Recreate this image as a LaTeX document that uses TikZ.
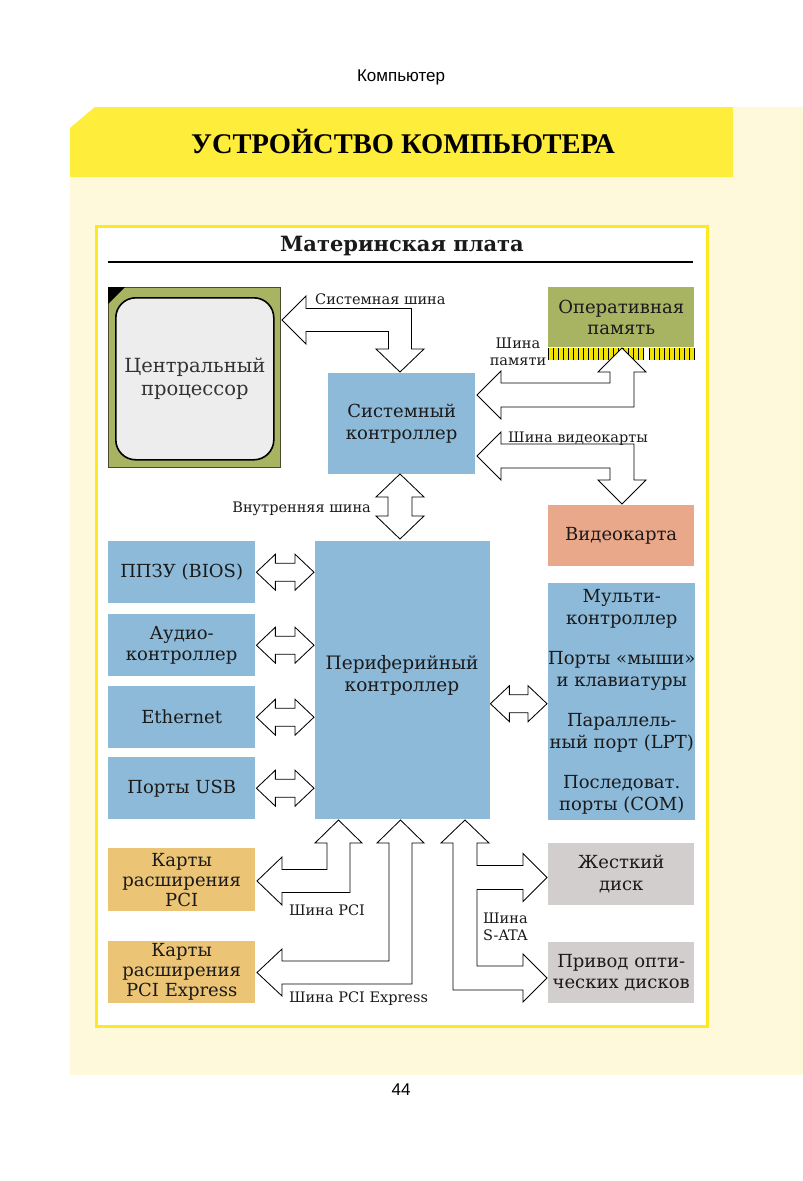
\documentclass[tikz,border=0pt]{standalone}
\usepackage{fontspec}
\setmainfont{DejaVu Serif}
\newfontfamily\bodyf{DejaVu Serif}
\newfontfamily\titlef{Liberation Serif}
\newfontfamily\sansf{Liberation Sans}
\usetikzlibrary{calc}
\definecolor{cream}{HTML}{FFF9DB}
\definecolor{band}{HTML}{FFED3B}
\definecolor{framey}{HTML}{FCE920}
\definecolor{olivebox}{HTML}{A8B462}
\definecolor{cpuedge}{HTML}{4A4A30}
\definecolor{bluebox}{HTML}{8DBAD9}
\definecolor{salmon}{HTML}{EAA88B}
\definecolor{orangebox}{HTML}{ECC476}
\definecolor{greybox}{HTML}{D3CECE}
\definecolor{cpugrey}{HTML}{EDEDED}
\definecolor{pinyellow}{HTML}{F2E200}
\definecolor{txt}{HTML}{1A1A1A}
\newcommand\HDArrow[2]{%
  \path[fat] let \p1=(#1), \p2=(#2) in
   (\x1,\y1) -- (\x1+19pt,\y1+18pt) -- (\x1+19pt,\y1+9pt) -- (\x2-19pt,\y1+9pt)
   -- (\x2-19pt,\y1+18pt) -- (\x2,\y1) -- (\x2-19pt,\y1-18pt) -- (\x2-19pt,\y1-9pt)
   -- (\x1+19pt,\y1-9pt) -- (\x1+19pt,\y1-18pt) -- cycle;}
\begin{document}
\begin{tikzpicture}[x=1pt,y=-1pt,
  box/.style={rectangle, inner sep=0pt, align=center, text=txt,
    font=\bodyf\fontsize{18}{21.5}\selectfont, anchor=north west},
  fat/.style={draw=black, fill=white, line width=0.85pt, line join=miter},
  buslabel/.style={inner sep=0pt, text=txt, font=\bodyf\fontsize{14.5}{17}\selectfont}]
\useasboundingbox (0,0) rectangle (803,1181);
\fill[white] (0,0) rectangle (803,1181);
\fill[cream] (95,107) -- (803,107) -- (803,1075) -- (70,1075) -- (70,128) -- cycle;
\fill[band] (95,107) -- (733,107) -- (733,177) -- (70,177) -- (70,128) -- cycle;
\node[font=\sansf\fontsize{17}{20}\selectfont] (hdr) at (401,77) {Компьютер};
\node[font=\titlef\bfseries\fontsize{28.5}{32}\selectfont] (title) at (403,142) {УСТРОЙСТВО КОМПЬЮТЕРА};
\node[font=\sansf\fontsize{17}{20}\selectfont] (pagenum) at (401,1090) {44};
% frame
\draw[framey, line width=3pt, fill=white] (96.5,226.5) rectangle (707,1026);
\node[font=\bodyf\bfseries\fontsize{21}{24}\selectfont, text=txt] (mp) at (402,246) {Материнская плата};
\draw[line width=2pt] (108,262) -- (693,262);
% CPU
\node[draw=cpuedge, fill=olivebox, line width=1pt, minimum width=172pt, minimum height=180pt, anchor=north west] (cpuo) at (108,287) {};
\fill[black] (108,287) -- (125,287) -- (108,304) -- cycle;
\node[box, draw=black, line width=1.6pt, fill=cpugrey, rounded corners=20pt, minimum width=158pt, minimum height=162pt, text=black!80, font=\bodyf\fontsize{19.5}{23}\selectfont] (cpu) at (115,297) {Центральный\\процессор};
% system controller
\node[box, fill=bluebox, minimum width=147pt, minimum height=101pt] (sc) at (328,373) {Системный\\контроллер};
% RAM
\node[box, fill=olivebox, minimum width=146pt, minimum height=60pt] (ram) at (548,287) {Оперативная\\память};
\fill[pinyellow] (548,348) rectangle (643,360);
\fill[pinyellow] (649,348) rectangle (694,360);
\foreach \i in {548,553,...,643} \draw[line width=0.8pt] (\i,348) -- (\i,360);
\foreach \i in {649,654,...,694} \draw[line width=0.8pt] (\i,348) -- (\i,360);
% video card
\node[box, fill=salmon, minimum width=146pt, minimum height=61pt] (vc) at (548,505) {Видеокарта};
% multi controller
\node[box, fill=bluebox, minimum width=146pt, minimum height=237pt] (mc) at (548,583) {Мульти-\\контроллер\\[19pt]Порты «мыши»\\и клавиатуры\\[19pt]Параллель-\\ный порт (LPT)\\[19pt]Последоват.\\порты (COM)};
% peripheral controller
\node[box, fill=bluebox, minimum width=175pt, minimum height=278pt] (pc) at (315,541) {};
\node[box, anchor=center, font=\bodyf\fontsize{18.5}{22}\selectfont] (pctext) at (402,675) {Периферийный\\контроллер};
% left boxes
\node[box, fill=bluebox, minimum width=147pt, minimum height=62pt] (bios) at (108,541) {ППЗУ (BIOS)};
\node[box, fill=bluebox, minimum width=147pt, minimum height=62pt] (audio) at (108,614) {Аудио-\\контроллер};
\node[box, fill=bluebox, minimum width=147pt, minimum height=62pt] (eth) at (108,686) {Ethernet};
\node[box, fill=bluebox, minimum width=147pt, minimum height=62pt] (usb) at (108,757) {Порты USB};
\node[box, fill=orangebox, minimum width=147pt, minimum height=63pt, font=\bodyf\fontsize{18}{20}\selectfont] (pci) at (108,848) {Карты\\расширения\\PCI};
\node[box, fill=orangebox, minimum width=147pt, minimum height=62pt, font=\bodyf\fontsize{18}{20}\selectfont] (pcie) at (108,941) {Карты\\расширения\\PCI Express};
% drives
\node[box, fill=greybox, minimum width=146pt, minimum height=62pt] (hdd) at (548,843) {Жесткий\\диск};
\node[box, fill=greybox, minimum width=146pt, minimum height=61pt] (odd) at (548,942) {Привод опти-\\ческих дисков};
% ---- fat arrows ----
% system bus
\path[fat] (282,320) -- (306,296) -- (306,308.5) -- (411.5,308.5) -- (411.5,349) -- (424,349)
  -- (400,372) -- (376,349) -- (388.5,349) -- (388.5,331.5) -- (306,331.5) -- (306,344) -- cycle;
% memory bus
\path[fat] (477,395) -- (501,371) -- (501,383) -- (610,383) -- (610,372) -- (598,372) -- (622,348)
  -- (646,372) -- (634,372) -- (634,407) -- (501,407) -- (501,419) -- cycle;
% video bus
\path[fat] (477,456) -- (501,432) -- (501,444) -- (634,444) -- (634,480) -- (646,480) -- (622,504)
  -- (598,480) -- (610,480) -- (610,468) -- (501,468) -- (501,480) -- cycle;
% internal bus
\path[fat] (400,474) -- (424,497) -- (412,497) -- (412,516) -- (424,516) -- (400,539)
  -- (376,516) -- (388,516) -- (388,497) -- (376,497) -- cycle;
% left double arrows
\HDArrow{$(bios.east)+(1pt,0pt)$}{$(pc.west|-bios.east)+(-1pt,0pt)$}
\HDArrow{$(audio.east)+(1pt,0pt)$}{$(pc.west|-audio.east)+(-1pt,0pt)$}
\HDArrow{$(eth.east)+(1pt,0pt)$}{$(pc.west|-eth.east)+(-1pt,0pt)$}
\HDArrow{$(usb.east)+(1pt,0pt)$}{$(pc.west|-usb.east)+(-1pt,0pt)$}
\HDArrow{$(pc.east|-mc.west)+(0pt,-2pt)$}{$(mc.west)+(-1pt,-2pt)$}
% PCI bus
\path[fat] (338.5,820) -- (362,843) -- (350,843) -- (350,892.5) -- (282,892.5) -- (282,905)
  -- (257,881) -- (282,857) -- (282,869.5) -- (327,869.5) -- (327,843) -- (315,843) -- cycle;
% PCI Express bus
\path[fat] (400.5,820) -- (424,843) -- (412,843) -- (412,984) -- (282,984) -- (282,996)
  -- (257,972.5) -- (282,949) -- (282,961) -- (389,961) -- (389,843) -- (377,843) -- cycle;
% S-ATA bus
\path[fat] (465,820) -- (489,843) -- (477,843) -- (477,865.5) -- (523,865.5) -- (523,853.5)
  -- (547,877.5) -- (523,901.5) -- (523,889.5) -- (477,889.5) -- (477,966) -- (523,966)
  -- (523,954) -- (547,978) -- (523,1002) -- (523,990) -- (453,990) -- (453,843) -- (441,843) -- cycle;
% ---- bus labels ----
\node[buslabel, anchor=base west] (lsys) at (315,304) {Системная шина};
\node[buslabel, align=center, anchor=base] (lmem) at (518,365) {Шина\\памяти};
\node[buslabel, anchor=base west] (lvid) at (508,442) {Шина видеокарты};
\node[buslabel, anchor=base east] (lint) at (371,512) {Внутренняя шина};
\node[buslabel, anchor=base west] (lpci) at (289,915) {Шина PCI};
\node[buslabel, anchor=base west] (lpcie) at (289,1002) {Шина PCI Express};
\node[buslabel, align=left, anchor=base west] (lsata) at (483,940) {Шина\\S-ATA};
\end{tikzpicture}
\end{document}
